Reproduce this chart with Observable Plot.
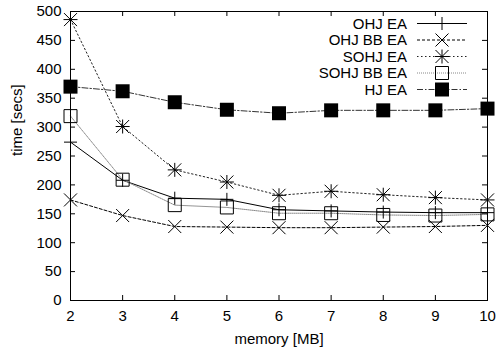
<!DOCTYPE html>
<html><head><meta charset="utf-8">
<script src="https://cdn.jsdelivr.net/npm/d3@7"></script>
<script src="https://cdn.jsdelivr.net/npm/@observablehq/plot@0.6"></script>
<style>body{margin:0;background:#fff}#chart{position:relative;width:496px;height:352px}</style>
</head><body><div id="chart"></div>
<script>
// ---- data ----
const memory = [2, 3, 4, 5, 6, 7, 8, 9, 10];
const ohjEA    = [274, 208, 177, 175, 157, 155, 153, 152, 152];
const ohjBBEA  = [174, 147, 128, 127, 126, 126, 127, 128, 130];
const sohjEA   = [486, 301, 226, 205, 182, 189, 183, 178, 174];
const sohjBBEA = [319, 209, 165, 161, 151, 151, 148, 147, 149];
const hjEA     = [370, 362, 343, 330, 324, 329, 329, 329, 332];
const seriesNames = ["OHJ EA", "OHJ BB EA", "SOHJ EA", "SOHJ BB EA", "HJ EA"];
const seriesValues = [ohjEA, ohjBBEA, sohjEA, sohjBBEA, hjEA];
const yTicks = [0, 50, 100, 150, 200, 250, 300, 350, 400, 450, 500];
const xTicks = memory;
const xLabel = "memory [MB]";
const yLabel = "time [secs]";

// ---- styles ----
const mk = (f) => ({draw: f});
const plusSym = mk((c) => {const r = 6.5; c.moveTo(-r, 0); c.lineTo(r, 0); c.moveTo(0, -r); c.lineTo(0, r);});
const timesSym = mk((c) => {const r = 6.5; c.moveTo(-r, -r); c.lineTo(r, r); c.moveTo(-r, r); c.lineTo(r, -r);});
const starSym = mk((c) => {const r = 7, q = 6.5; c.moveTo(-r, 0); c.lineTo(r, 0); c.moveTo(0, -r); c.lineTo(0, r);
  c.moveTo(-q, -q); c.lineTo(q, q); c.moveTo(-q, q); c.lineTo(q, -q);});
const boxSym = mk((c) => {const r = 6.5; c.rect(-r, -r, 2 * r, 2 * r);});
const fboxSym = mk((c) => {const r = 7; c.rect(-r, -r, 2 * r, 2 * r);});
const styles = [
  {stroke: "#000", dash: null, sym: plusSym, fill: "none", sw: 1},
  {stroke: "#000", dash: "3,2", sym: timesSym, fill: "none", sw: 1},
  {stroke: "#222", dash: "1.5,2.5", sym: starSym, fill: "none", sw: 1},
  {stroke: "#888", dash: "1,1", sym: boxSym, fill: "none", sw: 1},
  {stroke: "#333", dash: "6,2,1.5,2", sym: fboxSym, fill: "#000", sw: 1}
];

const W = 496, H = 352, mL = 70, mR = 9, mT = 11, mB = 52;
const pw = W - mL - mR, ph = H - mT - mB;

const rowsOf = (vals, name) => memory.map((m, i) => ({memory: m, time: vals[i], series: name}));

const marks = [];
seriesNames.forEach((name, k) => {
  const s = styles[k];
  const rows = rowsOf(seriesValues[k], name);
  marks.push(Plot.line(rows, {x: "memory", y: "time", stroke: s.stroke, strokeWidth: s.sw,
    strokeDasharray: s.dash || undefined}));
});
seriesNames.forEach((name, k) => {
  const s = styles[k];
  const rows = rowsOf(seriesValues[k], name);
  marks.push(Plot.dot(rows, {x: "memory", y: "time", symbol: s.sym, stroke: s.fill === "none" ? "#000" : "none",
    fill: s.fill, strokeWidth: 1, r: 5}));
});

const chart = Plot.plot({
  width: W, height: H,
  marginLeft: mL, marginRight: mR, marginTop: mT, marginBottom: mB,
  style: {fontFamily: "'Liberation Sans', Arial, sans-serif", fontSize: "15px", background: "#fff", color: "#000"},
  x: {domain: [2, 10]},
  y: {domain: [0, 500]},
  marks: [
    Plot.axisY(yTicks, {tickSize: 0, tickPadding: 9, label: null, fontSize: 15}),
    Plot.axisX(xTicks, {tickSize: 0, tickPadding: 10, label: null, fontSize: 15}),
    Plot.tickY(yTicks, {y: d => d, insetRight: pw - 5}),
    Plot.tickY(yTicks, {y: d => d, insetLeft: pw - 5}),
    Plot.tickX(xTicks, {x: d => d, insetTop: ph - 5}),
    Plot.tickX(xTicks, {x: d => d, insetBottom: ph - 5}),
    ...marks,
    Plot.frame({stroke: "#000"}),
    Plot.text([xLabel], {frameAnchor: "bottom", lineAnchor: "middle", dy: 39, fontSize: 15}),
    Plot.text([yLabel], {frameAnchor: "left", lineAnchor: "middle", rotate: -90, dx: -53, fontSize: 15})
  ]
});
document.getElementById("chart").appendChild(chart);

// ---- legend (inside top-right, gnuplot style) ----
const svg = d3.select(chart);
const lg = svg.append("g").attr("font-family", "'Liberation Sans', Arial, sans-serif").attr("font-size", 15);
seriesNames.forEach((name, k) => {
  const s = styles[k];
  const y = 23.5 + k * 16.5;
  lg.append("text").attr("x", 407).attr("y", y).attr("dy", "0.35em").attr("text-anchor", "end").attr("fill", "#000").text(name);
  lg.append("line").attr("x1", 417).attr("x2", 467).attr("y1", y).attr("y2", y)
    .attr("stroke", s.stroke).attr("stroke-dasharray", s.dash || null);
  lg.append("path").attr("transform", `translate(442,${y})`).attr("d", d3.symbol(s.sym, 64)())
    .attr("fill", s.fill).attr("stroke", s.fill === "none" ? "#000" : "none");
});
</script>
</body></html>
